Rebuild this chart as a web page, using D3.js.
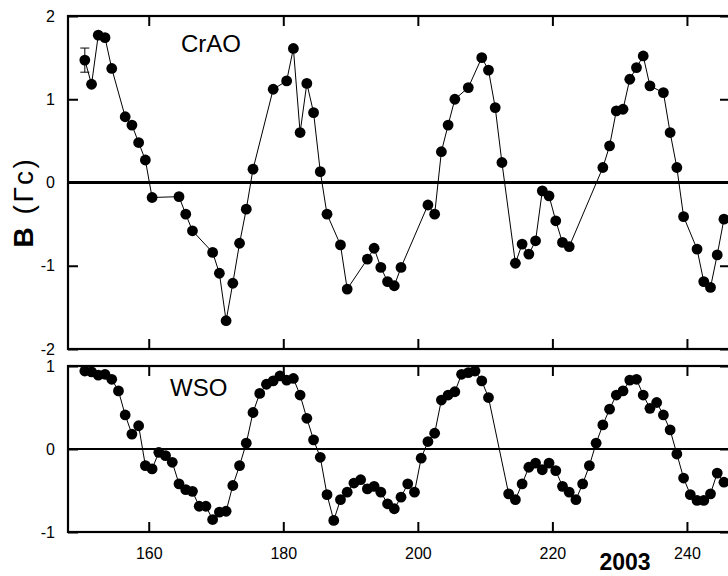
<!DOCTYPE html>
<html>
<head>
<meta charset="utf-8">
<script src="https://cdn.jsdelivr.net/npm/d3@7"></script>
<style>
  body { margin: 0; background: #fff; }
  svg { display: block; font-family: Arial, "Liberation Sans", sans-serif; }
</style>
</head>
<body>
<svg id="chart" width="728" height="576"></svg>
<script>
// CrAO (top panel)
const crDays = [150.5, 151.5, 152.5, 153.5, 154.5, 156.5, 157.5, 158.5, 159.5, 160.5,
  164.5, 165.5, 166.5, 169.5, 170.5, 171.5, 172.5, 173.5, 174.5, 175.5,
  178.5, 180.5, 181.5, 182.5, 183.5, 184.5, 185.5, 186.5, 188.5, 189.5,
  192.5, 193.5, 194.5, 195.5, 196.5, 197.5, 201.5, 202.5, 203.5, 204.5,
  205.5, 207.5, 209.5, 210.5, 211.5, 212.5, 214.5, 215.5, 216.5, 217.5,
  218.5, 219.5, 220.5, 221.5, 222.5, 227.5, 228.5, 229.5, 230.5, 231.5,
  232.5, 233.5, 234.5, 236.5, 237.5, 238.5, 239.5, 241.5, 242.5, 243.5,
  244.5, 245.5];
const crVals = [1.47, 1.18, 1.77, 1.74, 1.37, 0.79, 0.69, 0.48, 0.27, -0.18,
  -0.17, -0.38, -0.58, -0.84, -1.09, -1.66, -1.21, -0.73, -0.32, 0.16,
  1.12, 1.22, 1.61, 0.60, 1.19, 0.84, 0.13, -0.38, -0.75, -1.28,
  -0.92, -0.79, -1.02, -1.19, -1.24, -1.02, -0.27, -0.38, 0.37, 0.69,
  1.00, 1.14, 1.50, 1.35, 0.90, 0.24, -0.97, -0.74, -0.86, -0.70,
  -0.10, -0.16, -0.46, -0.72, -0.77, 0.18, 0.44, 0.86, 0.88, 1.24,
  1.38, 1.52, 1.16, 1.08, 0.60, 0.18, -0.41, -0.80, -1.19, -1.26,
  -0.87, -0.44];
// one error bar on the first CrAO point
const errDay = [150.5];
const errVal = [1.47];
const errSize = [0.145];

// WSO (bottom panel)
const wsoDays = [150.5, 151.5, 152.5, 153.5, 154.5, 155.5, 156.5, 157.5, 158.5, 159.5,
  160.5, 161.5, 162.5, 163.5, 164.5, 165.5, 166.5, 167.5, 168.5, 169.5,
  170.5, 171.5, 172.5, 173.5, 174.5, 175.5, 176.5, 177.5, 178.5, 179.5,
  180.5, 181.5, 182.5, 183.5, 184.5, 185.5, 186.5, 187.5, 188.5, 189.5,
  190.5, 191.5, 192.5, 193.5, 194.5, 195.5, 196.5, 197.5, 198.5, 199.5,
  200.5, 201.5, 202.5, 203.5, 204.5, 205.5, 206.5, 207.5, 208.5, 209.5,
  210.5, 213.5, 214.5, 215.5, 216.5, 217.5, 218.5, 219.5, 220.5, 221.5,
  222.5, 223.5, 224.5, 225.5, 226.5, 227.5, 228.5, 229.5, 230.5, 231.5,
  232.5, 233.5, 234.5, 235.5, 236.5, 237.5, 238.5, 239.5, 240.5, 241.5,
  242.5, 243.5, 244.5, 245.5];
const wsoVals = [0.94, 0.93, 0.89, 0.90, 0.84, 0.70, 0.41, 0.18, 0.28, -0.20,
  -0.24, -0.04, -0.08, -0.16, -0.42, -0.49, -0.51, -0.69, -0.69, -0.85,
  -0.76, -0.75, -0.44, -0.20, 0.07, 0.44, 0.67, 0.78, 0.82, 0.88,
  0.83, 0.85, 0.65, 0.37, 0.11, -0.10, -0.55, -0.86, -0.61, -0.52,
  -0.41, -0.37, -0.48, -0.45, -0.52, -0.66, -0.72, -0.58, -0.42, -0.52,
  -0.11, 0.09, 0.19, 0.59, 0.65, 0.69, 0.90, 0.92, 0.94, 0.82,
  0.62, -0.54, -0.61, -0.42, -0.22, -0.17, -0.25, -0.17, -0.26, -0.45,
  -0.52, -0.61, -0.42, -0.20, 0.07, 0.29, 0.48, 0.65, 0.70, 0.83,
  0.84, 0.65, 0.49, 0.56, 0.41, 0.23, -0.06, -0.35, -0.55, -0.62,
  -0.62, -0.54, -0.29, -0.40];

const xTicks = [160, 180, 200, 220, 240];
const crTicks = [2, 1, 0, -1, -2];
const wsoTicks = [1, 0, -1];

const svg = d3.select("#chart");

const x = d3.scaleLinear().domain([148, 246.4]).range([68, 730]);
const yTop = d3.scaleLinear().domain([-2, 2]).range([349, 16]);
const yBot = d3.scaleLinear().domain([-1, 1]).range([532, 366]);

const fmt = d => String(d);

function drawPanel(y, days, vals, yticks, opts) {
  const g = svg.append("g");
  const [y0, y1] = y.range();

  // inward ticks on every side
  g.append("g").attr("transform", `translate(0,${y0})`)
    .call(d3.axisBottom(x).tickValues(xTicks).tickSize(-10)
      .tickPadding(16).tickFormat(opts.xLabels ? fmt : ""));
  g.append("g").attr("transform", `translate(0,${y1})`)
    .call(d3.axisTop(x).tickValues(xTicks).tickSize(-10).tickFormat(""));
  g.append("g").attr("transform", `translate(${x.range()[0]},0)`)
    .call(d3.axisLeft(y).tickValues(yticks).tickSize(-10).tickPadding(13).tickFormat(fmt));
  g.append("g").attr("transform", `translate(${x.range()[1]},0)`)
    .call(d3.axisRight(y).tickValues(yticks).tickSize(-10).tickFormat(""));

  g.selectAll(".domain").remove();
  g.selectAll(".tick line").attr("stroke", "#000").attr("stroke-width", 2);
  g.selectAll(".tick text").attr("font-size", 16).attr("fill", "#000")
    .attr("font-family", "Arial, 'Liberation Sans', sans-serif");

  // frame
  g.append("rect")
    .attr("x", x.range()[0]).attr("y", y1)
    .attr("width", x.range()[1] - x.range()[0]).attr("height", y0 - y1)
    .attr("fill", "none").attr("stroke", "#000").attr("stroke-width", 2.2);

  // zero line
  g.append("line")
    .attr("x1", x.range()[0]).attr("x2", x.range()[1])
    .attr("y1", y(0)).attr("y2", y(0))
    .attr("stroke", "#000").attr("stroke-width", opts.zeroWidth);

  const pts = days.map((d, i) => [d, vals[i]]);
  g.append("path")
    .datum(pts)
    .attr("fill", "none").attr("stroke", "#000").attr("stroke-width", 1)
    .attr("d", d3.line().x(d => x(d[0])).y(d => y(d[1])));

  g.selectAll("circle.pt").data(pts).join("circle")
    .attr("class", "pt")
    .attr("cx", d => x(d[0])).attr("cy", d => y(d[1]))
    .attr("r", 5.4).attr("fill", "#000");

  g.append("text")
    .attr("x", opts.labelX).attr("y", opts.labelY)
    .attr("font-size", 24).attr("fill", "#000")
    .text(opts.label);
  return g;
}

const gTop = drawPanel(yTop, crDays, crVals, crTicks,
  { xLabels: false, zeroWidth: 3, label: "CrAO", labelX: 181, labelY: 52 });
drawPanel(yBot, wsoDays, wsoVals, wsoTicks,
  { xLabels: true, zeroWidth: 2.2, label: "WSO", labelX: 170, labelY: 396 });

// error bar
const eb = gTop.append("g").attr("stroke", "#000").attr("stroke-width", 1);
errDay.forEach((d, i) => {
  const cx = x(d), lo = yTop(errVal[i] - errSize[i]), hi = yTop(errVal[i] + errSize[i]);
  eb.append("line").attr("x1", cx).attr("x2", cx).attr("y1", lo).attr("y2", hi);
  eb.append("line").attr("x1", cx - 4.5).attr("x2", cx + 4.5).attr("y1", lo).attr("y2", lo);
  eb.append("line").attr("x1", cx - 4.5).attr("x2", cx + 4.5).attr("y1", hi).attr("y2", hi);
});

// y axis title
const yt = svg.append("text")
  .attr("transform", "translate(33,202) rotate(-90)")
  .attr("text-anchor", "middle")
  .attr("font-size", 28).attr("letter-spacing", 2.5).attr("fill", "#000");
yt.append("tspan").attr("font-weight", "bold").text("B");
yt.append("tspan").text(" (Гс)");

// year label
svg.append("text")
  .attr("x", 625).attr("y", 570)
  .attr("text-anchor", "middle")
  .attr("font-size", 23).attr("font-weight", "bold").attr("fill", "#000")
  .text("2003");
</script>
</body>
</html>
